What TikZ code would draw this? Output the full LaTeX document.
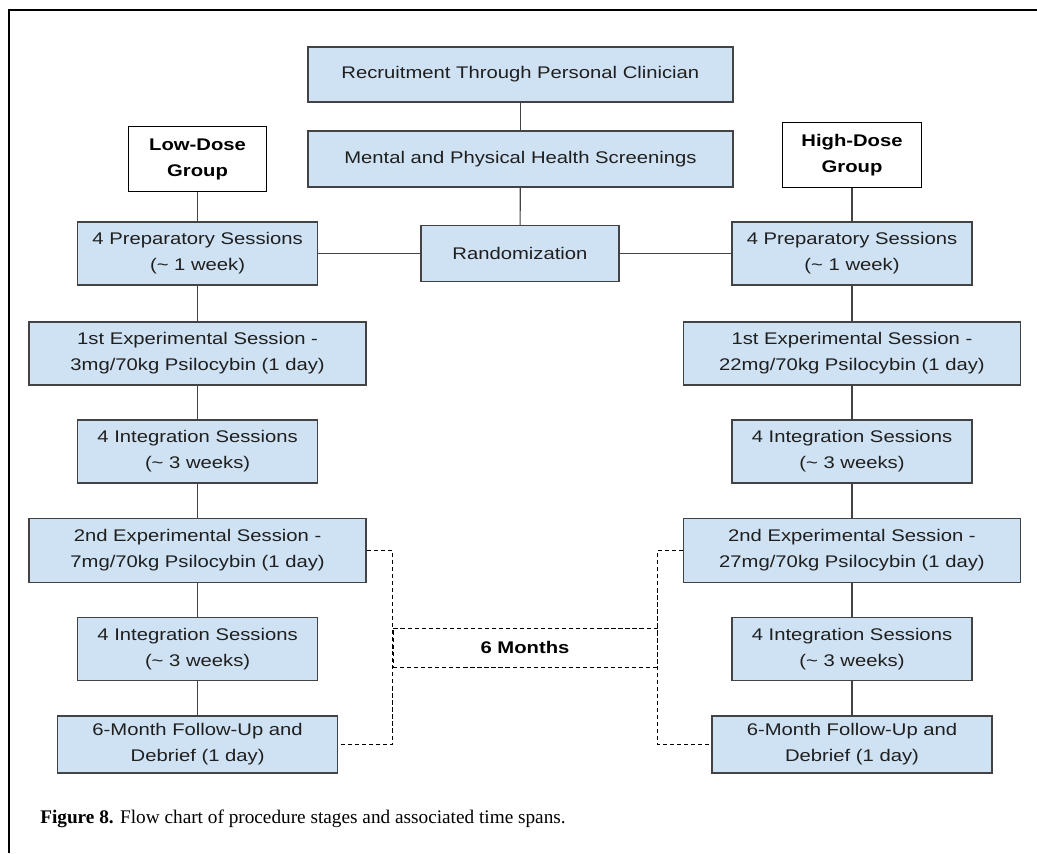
\documentclass[tikz,border=0pt]{standalone}
\usepackage{fontspec}
\setmainfont{Liberation Serif}
\newfontfamily\boxfont[FakeStretch=1.2]{Liberation Sans}
\definecolor{boxblue}{HTML}{CFE2F3}
\definecolor{boxedge}{HTML}{434343}
\definecolor{inktext}{HTML}{1F1F1F}
\begin{document}
\begin{tikzpicture}[
    block/.style={rectangle, draw=boxedge, line width=0.9pt, fill=boxblue, text=inktext, align=center, inner sep=0pt, minimum height=1.575cm, font=\boxfont\fontsize{12}{18.5}\selectfont},
    group/.style={rectangle, draw=black, line width=0.8pt, fill=white, align=center, inner sep=0pt, minimum width=3.46cm, minimum height=1.64cm, font=\boxfont\bfseries\fontsize{12}{18.5}\selectfont},
    span/.style={rectangle, draw=black, dash pattern=on 3pt off 2pt, line width=0.7pt, align=center, inner sep=0pt, font=\boxfont\bfseries\fontsize{12}{14}\selectfont},
    line/.style={draw, boxedge, line width=0.8pt},
    dashline/.style={draw, black, line width=0.7pt, dash pattern=on 3pt off 2pt},
    caption/.style={inner sep=0pt, font=\fontsize{13.7}{16}\selectfont}
]
    \useasboundingbox (0,0) rectangle (25.925,-21.325);
    \draw [line width=2.1pt] (0.225,-21.325) -- (0.225,-0.25) -- (25.925,-0.25);

    \node [block, minimum width=10.625cm, minimum height=1.375cm] (recruit) at (13.01,-1.86) {Recruitment Through Personal Clinician};
    \node [block, minimum width=10.625cm, minimum height=1.4cm] (screen) at (13.01,-3.975) {Mental and Physical Health Screenings};
    \node [block, minimum width=4.95cm, minimum height=1.4cm] (random) at (13.0,-6.34) {Randomization};

    \node [group] (lowgrp) at (4.94,-3.975) {Low-Dose\\Group};
    \node [group] (highgrp) at (21.3,-3.875) {High-Dose\\Group};

    % low-dose column
    \node [block, minimum width=6cm] (prepL) at (4.94,-6.34) {4 Preparatory Sessions\\(\textasciitilde{} 1 week)};
    \node [block, minimum width=8.425cm] (exp1L) at (4.94,-8.84) {1st Experimental Session -\\3mg/70kg Psilocybin (1 day)};
    \node [block, minimum width=6cm] (intL) at (4.94,-11.29) {4 Integration Sessions\\(\textasciitilde{} 3 weeks)};
    \node [block, minimum width=8.425cm, minimum height=1.6cm] (exp2L) at (4.94,-13.76) {2nd Experimental Session -\\7mg/70kg Psilocybin (1 day)};
    \node [block, minimum width=6cm] (int2L) at (4.94,-16.225) {4 Integration Sessions\\(\textasciitilde{} 3 weeks)};
    \node [block, minimum width=7cm, minimum height=1.425cm] (followL) at (4.94,-18.61) {6-Month Follow-Up and\\Debrief (1 day)};

    % high-dose column
    \node [block, minimum width=6cm] (prepR) at (21.3,-6.34) {4 Preparatory Sessions\\(\textasciitilde{} 1 week)};
    \node [block, minimum width=8.425cm] (exp1R) at (21.3,-8.84) {1st Experimental Session -\\22mg/70kg Psilocybin (1 day)};
    \node [block, minimum width=6cm] (intR) at (21.3,-11.29) {4 Integration Sessions\\(\textasciitilde{} 3 weeks)};
    \node [block, minimum width=8.425cm, minimum height=1.6cm] (exp2R) at (21.3,-13.76) {2nd Experimental Session -\\27mg/70kg Psilocybin (1 day)};
    \node [block, minimum width=6cm] (int2R) at (21.3,-16.225) {4 Integration Sessions\\(\textasciitilde{} 3 weeks)};
    \node [block, minimum width=7cm, minimum height=1.425cm] (followR) at (21.3,-18.61) {6-Month Follow-Up and\\Debrief (1 day)};

    \node [span, minimum width=6.6cm, minimum height=0.975cm] (months) at (13.125,-16.19) {6 Months};

    \node [caption, anchor=base west] (cap) at (1.0,-20.575) {\textbf{Figure 8.} Flow chart of procedure stages and associated time spans.};

    \draw [line] (recruit) -- (screen);
    \draw [line] (screen) -- (random);
    \draw [line] (random) -- (prepL);
    \draw [line] (random) -- (prepR);

    \draw [line] (lowgrp) -- (prepL);
    \draw [line] (prepL) -- (exp1L);
    \draw [line] (exp1L) -- (intL);
    \draw [line] (intL) -- (exp2L);
    \draw [line] (exp2L) -- (int2L);
    \draw [line] (int2L) -- (followL);

    \draw [line] (highgrp) -- (prepR);
    \draw [line] (prepR) -- (exp1R);
    \draw [line] (exp1R) -- (intR);
    \draw [line] (intR) -- (exp2R);
    \draw [line] (exp2R) -- (int2R);
    \draw [line] (int2R) -- (followR);

    \draw [dashline] (exp2L.east) -| (months.west) |- (followL.east);
    \draw [dashline] (exp2R.west) -| (months.east) |- (followR.west);
\end{tikzpicture}
\end{document}
